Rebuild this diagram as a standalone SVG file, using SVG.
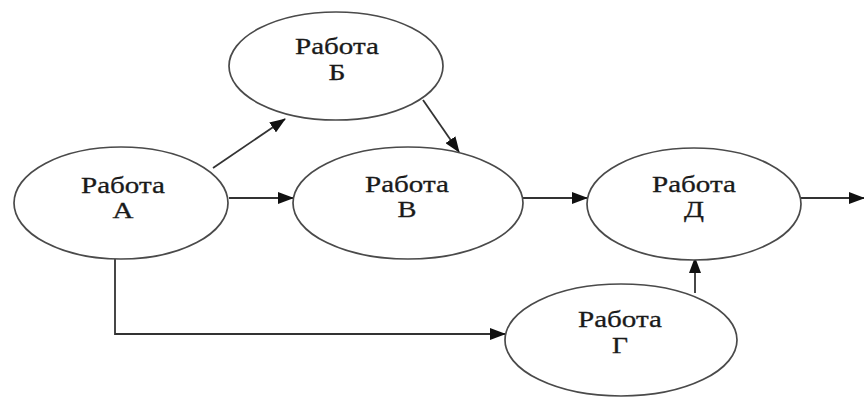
<svg xmlns="http://www.w3.org/2000/svg" width="864" height="406" viewBox="0 0 864 406">
<style>
.node{fill:#fff;stroke:#4a4a4a;stroke-width:1.7}
.lbl{font-family:"Liberation Serif","Times New Roman",serif;font-size:23px;fill:#1a1a1a;stroke:#1a1a1a;stroke-width:0.3;text-anchor:middle}
.edge{fill:none;stroke:#333;stroke-width:1.8}
</style>
<defs>
<marker id="arr" markerUnits="userSpaceOnUse" markerWidth="16" markerHeight="12" refX="15" refY="6" orient="auto">
<path d="M0,0 L16,6 L0,12 Z" fill="#111"/>
</marker>
</defs>
<rect width="864" height="406" fill="#fff"/>
<g id="connectors">
<path class="edge" d="M213,168 L285,119" marker-end="url(#arr)"/>
<path class="edge" d="M229,198 L293,198" marker-end="url(#arr)"/>
<path class="edge" d="M423,100 L459,152" marker-end="url(#arr)"/>
<path class="edge" d="M523,198 L587,198" marker-end="url(#arr)"/>
<path class="edge" d="M801,198 L864,198" marker-end="url(#arr)"/>
<path class="edge" d="M695,293 L695,258" marker-end="url(#arr)"/>
<path class="edge" d="M115,259 L115,334 L505,334" marker-end="url(#arr)"/>
</g>
<g id="nodeA">
<ellipse class="node" cx="121" cy="203" rx="107" ry="56"/>
<text class="lbl" x="123" y="193" textLength="84" lengthAdjust="spacingAndGlyphs">Работа</text>
<text class="lbl" x="123" y="218" textLength="21" lengthAdjust="spacingAndGlyphs">А</text>
</g>
<g id="nodeB">
<ellipse class="node" cx="336" cy="66" rx="107" ry="54"/>
<text class="lbl" x="337" y="54" textLength="84" lengthAdjust="spacingAndGlyphs">Работа</text>
<text class="lbl" x="337" y="80" textLength="17" lengthAdjust="spacingAndGlyphs">Б</text>
</g>
<g id="nodeV">
<ellipse class="node" cx="408" cy="203" rx="115" ry="56"/>
<text class="lbl" x="407" y="192" textLength="84" lengthAdjust="spacingAndGlyphs">Работа</text>
<text class="lbl" x="407" y="217" textLength="19" lengthAdjust="spacingAndGlyphs">В</text>
</g>
<g id="nodeD">
<ellipse class="node" cx="694" cy="204" rx="107" ry="56"/>
<text class="lbl" x="694" y="192" textLength="84" lengthAdjust="spacingAndGlyphs">Работа</text>
<text class="lbl" x="694" y="217" textLength="20" lengthAdjust="spacingAndGlyphs">Д</text>
</g>
<g id="nodeG">
<ellipse class="node" cx="621" cy="340" rx="116" ry="56"/>
<text class="lbl" x="620" y="327" textLength="84" lengthAdjust="spacingAndGlyphs">Работа</text>
<text class="lbl" x="620" y="353" textLength="16" lengthAdjust="spacingAndGlyphs">Г</text>
</g>
</svg>
